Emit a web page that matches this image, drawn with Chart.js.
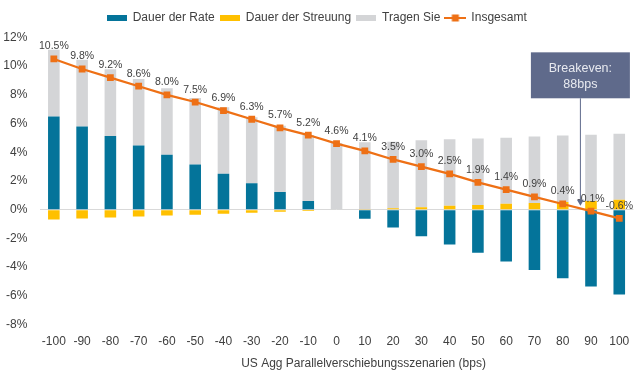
<!DOCTYPE html>
<html><head><meta charset="utf-8">
<script src="https://cdn.jsdelivr.net/npm/chart.js@4.4.0/dist/chart.umd.min.js"></script>
<style>html,body{margin:0;padding:0;background:#fff}canvas{display:block}</style>
</head><body>
<canvas id="c" width="640" height="378"></canvas>
<script>
const categories = ['-100','-90','-80','-70','-60','-50','-40','-30','-20','-10','0','10','20','30','40','50','60','70','80','90','100'];
const rateDuration = [6.5, 5.8, 5.13, 4.47, 3.82, 3.15, 2.5, 1.84, 1.24, 0.61, 0, -0.63, -1.24, -1.84, -2.42, -3.0, -3.6, -4.2, -4.78, -5.34, -5.9];
const spreadDuration = [-0.68, -0.61, -0.54, -0.47, -0.4, -0.35, -0.28, -0.21, -0.14, -0.09, 0, 0.05, 0.1, 0.18, 0.27, 0.32, 0.41, 0.46, 0.53, 0.6, 0.69];
const carry = [4.64, 4.64, 4.66, 4.64, 4.64, 4.63, 4.63, 4.6, 4.6, 4.6, 4.65, 4.65, 4.64, 4.66, 4.64, 4.64, 4.61, 4.64, 4.64, 4.62, 4.6];
const total = [10.5, 9.8, 9.2, 8.6, 8.0, 7.5, 6.9, 6.3, 5.7, 5.2, 4.6, 4.1, 3.5, 3.0, 2.5, 1.9, 1.4, 0.9, 0.4, -0.1, -0.6];
const seriesNames = ['Dauer der Rate', 'Dauer der Streuung', 'Tragen Sie', 'Insgesamt'];
const yTicks = [-8, -6, -4, -2, 0, 2, 4, 6, 8, 10, 12];
const axisTitle = 'US Agg Parallelverschiebungsszenarien (bps)';
const calloutLines = ['Breakeven:', '88bps'];

const FONT = "'Liberation Sans', Arial, sans-serif";
const TEXT = '#404040';
const COL_RATE = '#04749a', COL_SPREAD = '#ffc000', COL_CARRY = '#d4d5d7', COL_TOTAL = '#ee7015', COL_CALLOUT = '#5f6a8b';

function swatch(w, h, draw) { const c = document.createElement('canvas'); c.width = w; c.height = h; draw(c.getContext('2d'), w, h); return c; }
const legendIcons = [
  swatch(20, 6, (g, w, h) => { g.fillStyle = COL_RATE; g.fillRect(0, 0, w, h); }),
  swatch(20, 6, (g, w, h) => { g.fillStyle = COL_SPREAD; g.fillRect(0, 0, w, h); }),
  swatch(20, 6, (g, w, h) => { g.fillStyle = COL_CARRY; g.fillRect(0, 0, w, h); }),
  swatch(22, 8, (g, w, h) => { g.strokeStyle = COL_TOTAL; g.lineWidth = 2; g.beginPath(); g.moveTo(0, 4); g.lineTo(w, 4); g.stroke(); g.fillStyle = COL_TOTAL; g.fillRect(7.5, 0.5, 7, 7); })
];

const overlay = {
  id: 'overlay',
  afterDatasetsDraw(chart) {
    const ctx = chart.ctx;
    const meta = chart.getDatasetMeta(3);
    ctx.save();
    ctx.font = '10.5px ' + FONT;
    ctx.fillStyle = TEXT;
    ctx.textAlign = 'center';
    ctx.textBaseline = 'alphabetic';
    meta.data.forEach((pt, i) => { ctx.fillText(total[i].toFixed(1) + '%', pt.x, pt.y - 9.5); });

    const ca = chart.chartArea, ys = chart.scales.y;
    const boxR = ca.right - 3.5, boxW = 99, boxL = boxR - boxW;
    const boxT = ys.getPixelForValue(10.96), boxB = ys.getPixelForValue(7.76);
    const ax = (boxL + boxR) / 2, tipY = ys.getPixelForValue(0.28);
    ctx.strokeStyle = COL_CALLOUT; ctx.lineWidth = 1;
    ctx.beginPath(); ctx.moveTo(ax, boxB); ctx.lineTo(ax, tipY - 5); ctx.stroke();
    ctx.fillStyle = COL_CALLOUT;
    ctx.beginPath(); ctx.moveTo(ax - 3.5, tipY - 6); ctx.lineTo(ax + 3.5, tipY - 6); ctx.lineTo(ax, tipY); ctx.closePath(); ctx.fill();
    ctx.fillRect(boxL, boxT, boxW, boxB - boxT);
    ctx.fillStyle = '#e8eaf0';
    ctx.font = '12.5px ' + FONT;
    ctx.textBaseline = 'middle';
    const cy = (boxT + boxB) / 2;
    ctx.fillText(calloutLines[0], ax, cy - 7);
    ctx.fillText(calloutLines[1], ax, cy + 9);

    ctx.fillStyle = TEXT;
    ctx.font = '12px ' + FONT;
    ctx.fillText(axisTitle, (ca.left + ca.right) / 2 + 27, ca.bottom + 39);
    ctx.restore();
  }
};

new Chart(document.getElementById('c'), {
  type: 'bar',
  data: {
    labels: categories,
    datasets: [
      { label: seriesNames[0], data: rateDuration, backgroundColor: COL_RATE, stack: 'bars', order: 1 },
      { label: seriesNames[1], data: spreadDuration, backgroundColor: COL_SPREAD, stack: 'bars', order: 1 },
      { label: seriesNames[2], data: carry, backgroundColor: COL_CARRY, stack: 'bars', order: 1 },
      { type: 'line', label: seriesNames[3], data: total, borderColor: COL_TOTAL, backgroundColor: COL_TOTAL, borderWidth: 2.25,
        pointStyle: 'rect', pointRadius: 4.8, pointBorderWidth: 0, pointBackgroundColor: COL_TOTAL, tension: 0, stack: 'total', order: 0 }
    ]
  },
  options: {
    responsive: false,
    animation: false,
    devicePixelRatio: 1,
    datasets: { bar: { barPercentage: 0.41, categoryPercentage: 1.0 } },
    layout: { padding: { top: 7, right: 6.6, bottom: 0, left: 0 } },
    plugins: {
      tooltip: { enabled: false },
      legend: {
        position: 'top',
        labels: {
          usePointStyle: true, pointStyleWidth: 20, padding: 5, color: TEXT,
          font: { size: 12, family: FONT },
          generateLabels: (chart) => chart.data.datasets.map((ds, i) => ({
            text: ds.label, pointStyle: legendIcons[i], fillStyle: 'transparent', strokeStyle: 'transparent',
            lineWidth: 0, hidden: false, datasetIndex: i, fontColor: TEXT
          }))
        }
      }
    },
    scales: {
      x: {
        stacked: true,
        grid: { display: false }, border: { display: false },
        ticks: { color: TEXT, font: { size: 12, family: FONT }, padding: 1.5, maxRotation: 0, autoSkip: false },
        afterFit(s) { s.height = 53.4; }
      },
      xTop: {
        type: 'category', position: 'top', display: true,
        grid: { display: false }, border: { display: false }, ticks: { display: false },
        afterFit(s) { s.height = 3.4; }
      },
      y: {
        stacked: true, min: -8, max: 12,
        afterBuildTicks(s) { s.ticks = yTicks.map(v => ({ value: v })); },
        ticks: { color: TEXT, font: { size: 12, family: FONT }, padding: 12.4, callback: v => v + '%' },
        grid: { drawTicks: false, lineWidth: 1, color: c => (c.tick && c.tick.value === 0) ? '#d9d9d9' : 'rgba(0,0,0,0)' },
        border: { display: false },
        afterFit(s) { s.width = 39.7; }
      }
    }
  },
  plugins: [overlay]
});
</script>
</body></html>
